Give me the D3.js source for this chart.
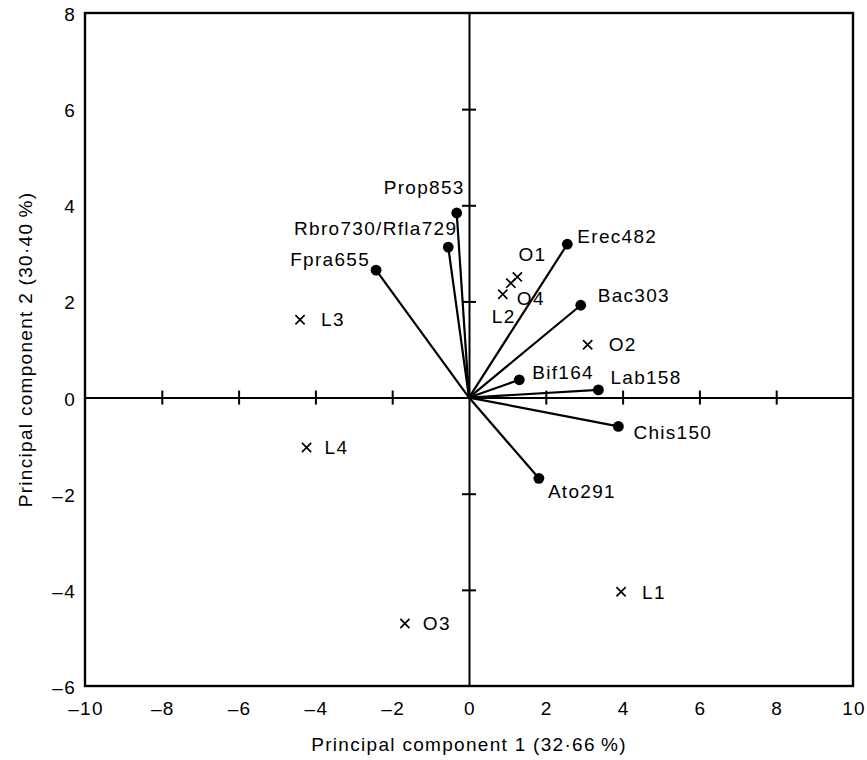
<!DOCTYPE html>
<html>
<head>
<meta charset="utf-8">
<script src="https://cdn.jsdelivr.net/npm/d3@7"></script>
<style>
  body { margin: 0; background: #fff; }
  text { font-family: "Liberation Sans", Arial, sans-serif; fill: #000; font-size: 19px; letter-spacing: 1.3px; }
</style>
</head>
<body>
<div id="chart"></div>
<script>
// loadings (vectors from origin, drawn with a dot)
var loadNames = ["Prop853", "Rbro730/Rfla729", "Fpra655", "Erec482", "Bac303", "Bif164", "Lab158", "Chis150", "Ato291"];
var loadX = [-0.32, -0.54, -2.42, 2.56, 2.91, 1.31, 3.37, 3.89, 1.82];
var loadY = [3.84, 3.13, 2.65, 3.19, 1.92, 0.37, 0.16, -0.60, -1.68];

// scores (drawn as crosses)
var scoreNames = ["O1", "O4", "L2", "O2", "L3", "L4", "L1", "O3"];
var scoreX = [1.26, 1.09, 0.88, 3.09, -4.40, -4.23, 3.96, -1.67];
var scoreY = [2.51, 2.38, 2.15, 1.10, 1.62, -1.04, -4.04, -4.70];

var xTicks = [-10, -8, -6, -4, -2, 0, 2, 4, 6, 8, 10];
var yTicks = [-6, -4, -2, 0, 2, 4, 6, 8];

// label placement: pixel offset from the mark + anchor
var labelPos = {
  "Prop853": [8, -19, "end"],
  "Rbro730/Rfla729": [9, -12, "end"],
  "Fpra655": [-6, -4, "end"],
  "Erec482": [10, -1, "start"],
  "Bac303": [17, -3, "start"],
  "Bif164": [13, -1, "start"],
  "Lab158": [12, -6, "start"],
  "Chis150": [15, 13, "start"],
  "Ato291": [9, 20, "start"],
  "O1": [1, -16, "start"],
  "O4": [6, 22, "start"],
  "L2": [-11, 29, "start"],
  "O2": [21, 6, "start"],
  "L3": [21, 6, "start"],
  "L4": [18, 6, "start"],
  "L1": [21, 7, "start"],
  "O3": [18, 6, "start"]
};

var W = 867, H = 760;
var margin = {top: 13, right: 14, bottom: 74, left: 85};

var svg = d3.select("#chart").append("svg")
  .attr("width", W).attr("height", H);

var x = d3.scaleLinear().domain([-10, 10]).range([margin.left, W - margin.right]);
var y = d3.scaleLinear().domain([-6, 8]).range([H - margin.bottom, margin.top]);

// frame
svg.append("rect")
  .attr("x", x(-10)).attr("y", y(8))
  .attr("width", x(10) - x(-10)).attr("height", y(-6) - y(8))
  .attr("fill", "none").attr("stroke", "#000").attr("stroke-width", 2.4);

// zero axes with crossing ticks
var xAxisZero = d3.axisBottom(x).tickValues(xTicks.filter(function(d) { return d > -10 && d < 10 && d !== 0; }))
  .tickSizeOuter(0).tickFormat("");
var gx = svg.append("g").attr("transform", "translate(0," + y(0) + ")").call(xAxisZero);
gx.selectAll(".tick line").attr("y1", 7).attr("y2", -7);
gx.selectAll("line,path").attr("stroke", "#000").attr("stroke-width", 2);

var yAxisZero = d3.axisLeft(y).tickValues(yTicks.filter(function(d) { return d > -6 && d < 8 && d !== 0; }))
  .tickSizeOuter(0).tickFormat("");
var gy = svg.append("g").attr("transform", "translate(" + x(0) + ",0)").call(yAxisZero);
gy.selectAll(".tick line").attr("x1", -7).attr("x2", 7);
gy.selectAll("line,path").attr("stroke", "#000").attr("stroke-width", 2);

function fmt(d) { return d < 0 ? "\u2013" + Math.abs(d) : String(d); }

// tick labels along the frame
svg.append("g").selectAll("text").data(xTicks).enter().append("text")
  .attr("x", function(d) { return x(d) + 1; })
  .attr("y", y(-6) + 29)
  .attr("text-anchor", "middle")
  .text(fmt);

svg.append("g").selectAll("text").data(yTicks).enter().append("text")
  .attr("x", x(-10) - 9)
  .attr("y", function(d) { return y(d) + 8; })
  .attr("text-anchor", "end")
  .text(fmt);

// axis titles
svg.append("text")
  .attr("x", x(0)).attr("y", 751)
  .attr("text-anchor", "middle")
  .text("Principal component 1 (32\u00b766\u2009%)");

svg.append("text")
  .attr("transform", "translate(32," + ((y(8) + y(-6)) / 2) + ") rotate(-90)")
  .attr("text-anchor", "middle")
  .text("Principal component 2 (30\u00b740\u2009%)");

var loads = loadNames.map(function(n, i) { return {name: n, x: loadX[i], y: loadY[i]}; });
var scores = scoreNames.map(function(n, i) { return {name: n, x: scoreX[i], y: scoreY[i]}; });

// loading vectors
svg.append("g").selectAll("line").data(loads).enter().append("line")
  .attr("x1", x(0)).attr("y1", y(0))
  .attr("x2", function(d) { return x(d.x); })
  .attr("y2", function(d) { return y(d.y); })
  .attr("stroke", "#000").attr("stroke-width", 2.2);

svg.append("g").selectAll("circle").data(loads).enter().append("circle")
  .attr("cx", function(d) { return x(d.x); })
  .attr("cy", function(d) { return y(d.y); })
  .attr("r", 5.4).attr("fill", "#000");

// score crosses
var cr = 4.6;
svg.append("g").selectAll("path").data(scores).enter().append("path")
  .attr("d", function(d) {
    var px = x(d.x), py = y(d.y);
    return "M" + (px - cr) + "," + (py - cr) + "L" + (px + cr) + "," + (py + cr) +
           "M" + (px - cr) + "," + (py + cr) + "L" + (px + cr) + "," + (py - cr);
  })
  .attr("stroke", "#000").attr("stroke-width", 1.7).attr("fill", "none");

// labels
svg.append("g").selectAll("text").data(loads.concat(scores)).enter().append("text")
  .attr("x", function(d) { return x(d.x) + labelPos[d.name][0]; })
  .attr("y", function(d) { return y(d.y) + labelPos[d.name][1]; })
  .attr("text-anchor", function(d) { return labelPos[d.name][2]; })
  .text(function(d) { return d.name; });
</script>
</body>
</html>
